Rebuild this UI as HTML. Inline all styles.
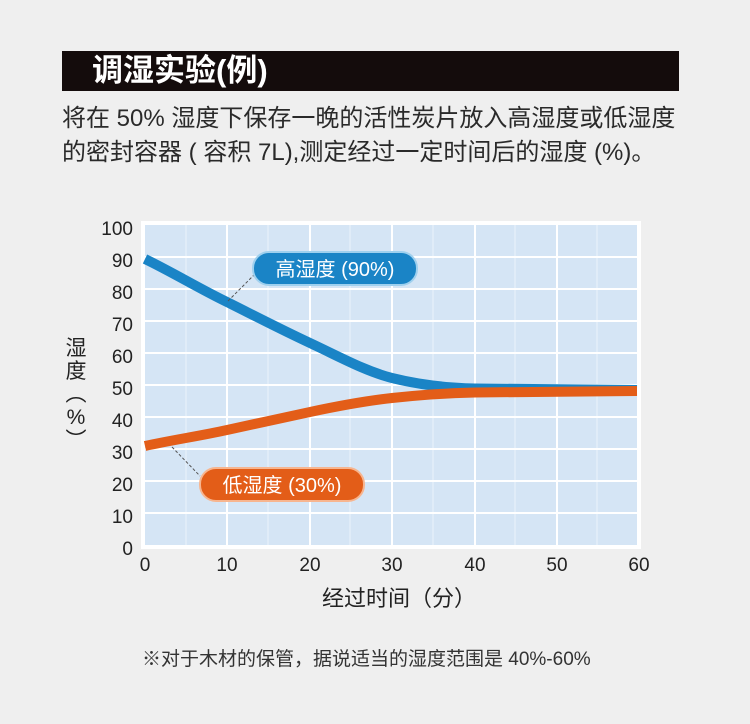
<!DOCTYPE html>
<html><head><meta charset="utf-8"><style>
body{margin:0;width:750px;height:724px;background:#efefef;overflow:hidden;font-family:"Liberation Sans","Noto Sans CJK SC",sans-serif;}
.t{position:absolute;white-space:nowrap;color:#222;}
</style></head><body>
<div style="position:absolute;left:62px;top:51px;width:617px;height:40px;background:#140c0c;"></div>
<div class="t" style="left:92px;top:52px;font-size:31px;font-weight:bold;color:#fff;line-height:38px;">调湿实验(例)</div>
<div class="t" style="left:62px;top:102px;font-size:24px;line-height:34px;color:#2a2a2a;">将在 50% 湿度下保存一晚的活性炭片放入高湿度或低湿度<br>的密封容器 ( 容积 7L),测定经过一定时间后的湿度 (%)。</div>
<svg style="position:absolute;left:0;top:0" width="750" height="724">
<rect x="141" y="221" width="500" height="328" fill="#fff"/>
<rect x="145" y="225" width="492" height="320" fill="#d5e5f5"/>
<g stroke="#eaf2fb" stroke-width="1">
<line x1="186" y1="225" x2="186" y2="545"/><line x1="268" y1="225" x2="268" y2="545"/><line x1="350" y1="225" x2="350" y2="545"/><line x1="433" y1="225" x2="433" y2="545"/><line x1="515" y1="225" x2="515" y2="545"/><line x1="597" y1="225" x2="597" y2="545"/>
</g>
<g stroke="#fff" stroke-width="2">
<line x1="227" y1="225" x2="227" y2="545"/><line x1="310" y1="225" x2="310" y2="545"/><line x1="392" y1="225" x2="392" y2="545"/><line x1="475" y1="225" x2="475" y2="545"/><line x1="557" y1="225" x2="557" y2="545"/>
<line x1="145" y1="257" x2="637" y2="257"/><line x1="145" y1="289" x2="637" y2="289"/><line x1="145" y1="321" x2="637" y2="321"/><line x1="145" y1="353" x2="637" y2="353"/><line x1="145" y1="385" x2="637" y2="385"/><line x1="145" y1="417" x2="637" y2="417"/><line x1="145" y1="449" x2="637" y2="449"/><line x1="145" y1="481" x2="637" y2="481"/><line x1="145" y1="513" x2="637" y2="513"/>
</g>
<path d="M145,259 C172,272 200,289 227,302 C255,316 282,330 310,343 C340,357 365,371 392,378 C420,385 450,388 475,388.5 L637,390" fill="none" stroke="#1a84c6" stroke-width="10"/>
<path d="M145,446 C172,440 200,436 227,430 C255,424 282,418 310,412 C338,406 365,401 392,398 C420,395 450,393 475,392.5 L637,391" fill="none" stroke="#e35d18" stroke-width="10"/>
<line x1="228" y1="301" x2="256" y2="273" stroke="#555" stroke-dasharray="3,2"/>
<line x1="172" y1="447" x2="200" y2="476" stroke="#555" stroke-dasharray="3,2"/>
<rect x="253" y="252" width="164" height="33" rx="16" fill="#1a84c6" stroke="#9fd0ee" stroke-width="2"/>
<text x="335" y="276" font-size="20" fill="#fff" text-anchor="middle" font-family="Liberation Sans,Noto Sans CJK SC,sans-serif">高湿度 (90%)</text>
<rect x="200" y="468" width="164" height="33" rx="16" fill="#e35d18" stroke="#f7b58f" stroke-width="2"/>
<text x="282" y="492" font-size="20" fill="#fff" text-anchor="middle" font-family="Liberation Sans,Noto Sans CJK SC,sans-serif">低湿度 (30%)</text>
<g font-size="19" fill="#222" text-anchor="end" font-family="Liberation Sans,sans-serif">
<text x="133" y="235">100</text><text x="133" y="267">90</text><text x="133" y="299">80</text><text x="133" y="331">70</text><text x="133" y="363">60</text><text x="133" y="395">50</text><text x="133" y="427">40</text><text x="133" y="459">30</text><text x="133" y="491">20</text><text x="133" y="523">10</text><text x="133" y="555">0</text>
</g>
<g font-size="19" fill="#222" text-anchor="middle" font-family="Liberation Sans,sans-serif">
<text x="145" y="571">0</text><text x="227" y="571">10</text><text x="310" y="571">20</text><text x="392" y="571">30</text><text x="475" y="571">40</text><text x="557" y="571">50</text><text x="639" y="571">60</text>
</g>
</svg>
<div class="t" style="left:64px;top:337px;font-size:21px;line-height:23px;width:24px;text-align:center;white-space:normal;">湿<br>度<br>︵<br>%<br>︶</div>
<div class="t" style="left:322px;top:581px;font-size:22px;">经过时间（分）</div>
<div class="t" style="left:142px;top:644px;font-size:19px;color:#333;">※对于木材的保管，据说适当的湿度范围是 40%-60%</div>
</body></html>
